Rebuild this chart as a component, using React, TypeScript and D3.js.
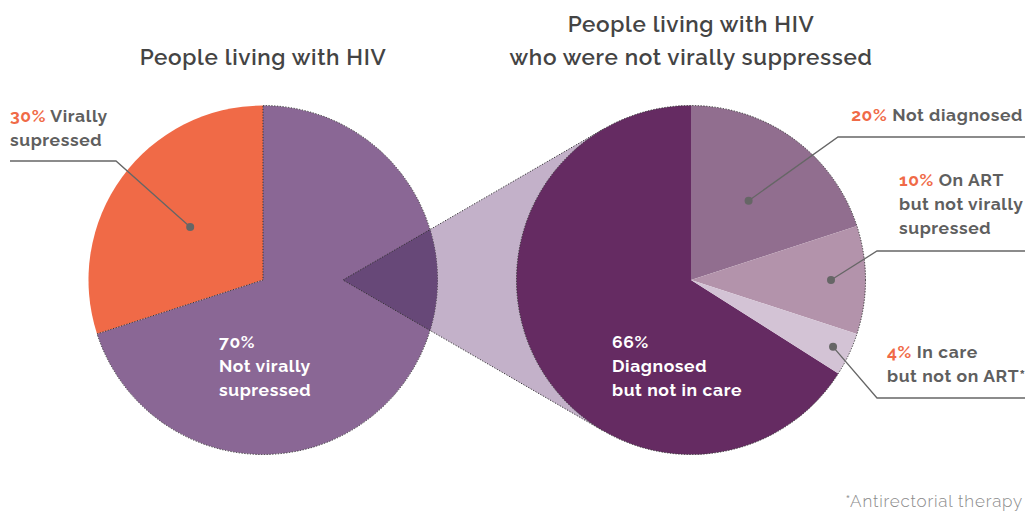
import React from "react";
import * as d3 from "d3";

const leftCategories = ["Virally supressed", "Not virally supressed"];
const leftValues = [30, 70];
const leftColors = ["#f06a47", "#8a6795"];

const rightCategories = ["Diagnosed but not in care", "Not diagnosed", "On ART but not virally supressed", "In care but not on ART*"];
const rightValues = [66, 20, 10, 4];
const rightColors = ["#652b62", "#916e8f", "#b393ab", "#d3c3d5"];

const titleLeft = ["People living with HIV"];
const titleRight = ["People living with HIV", "who were not virally suppressed"];
const footnote = "*Antirectorial therapy";

const W = 1025, H = 512;
const R = 174.5;
const LC = { x: 263, y: 280 };
const RC = { x: 691, y: 280 };
const APEX = { x: 343, y: 280 };
const FONT = "Raleway, 'Open Sans', Lato, sans-serif";
const ORANGE = "#f06a47";
const GREY = "#5f5f5f";
const DOT = "1.2,1.6";

export default function App() {
  const leftPie = d3.pie<number>().sort(null).startAngle(-(leftValues[0] / 100) * 2 * Math.PI).endAngle(2 * Math.PI - (leftValues[0] / 100) * 2 * Math.PI)(leftValues);
  const rightPie = d3.pie<number>().sort(null).startAngle(-(rightValues[0] / 100) * 2 * Math.PI).endAngle(2 * Math.PI - (rightValues[0] / 100) * 2 * Math.PI)(rightValues);
  const arc = d3.arc<d3.PieArcDatum<number>>().innerRadius(0).outerRadius(R);
  const at = (r: number) => d3.arc<d3.PieArcDatum<number>>().innerRadius(r).outerRadius(r);

  const dx = RC.x - APEX.x;
  const theta = Math.asin(R / dx);
  const tl = Math.sqrt(dx * dx - R * R);
  const T1 = { x: APEX.x + tl * Math.cos(theta), y: APEX.y - tl * Math.sin(theta) };
  const T2 = { x: APEX.x + tl * Math.cos(theta), y: APEX.y + tl * Math.sin(theta) };
  const fanPath = d3.line()([[APEX.x, APEX.y], [T1.x, T1.y], [RC.x, RC.y], [T2.x, T2.y]]) + "Z";
  const fanEdges = d3.line()([[T1.x, T1.y], [APEX.x, APEX.y], [T2.x, T2.y]]) as string;

  const dotL = at(90).centroid(leftPie[0]);
  const dot20 = at(98).centroid(rightPie[1]);
  const dot10 = at(140).centroid(rightPie[2]);
  const dot4 = at(157).centroid(rightPie[3]);

  const labelStyle = { fontFamily: FONT, fontWeight: 700, fontSize: 17.5, letterSpacing: 0.6, fill: GREY } as const;
  const whiteStyle = { fontFamily: FONT, fontWeight: 700, fontSize: 17.5, letterSpacing: 0.6, fill: "#ffffff" } as const;
  const titleStyle = { fontFamily: FONT, fontSize: 22.5, fontWeight: 600, letterSpacing: 0.65, fill: "#444444" } as const;

  return (
    <svg width={W} height={H} style={{ position: "absolute", left: 0, top: 0 }}>
      <defs>
        <clipPath id="leftCircle">
          <circle cx={LC.x} cy={LC.y} r={R} />
        </clipPath>
      </defs>
      {titleLeft.map((t, i) => (
        <text key={t} x={LC.x} y={65 + i * 33} textAnchor="middle" style={titleStyle}>{t}</text>
      ))}
      {titleRight.map((t, i) => (
        <text key={t} x={RC.x} y={32 + i * 33} textAnchor="middle" style={titleStyle}>{t}</text>
      ))}

      <path d={fanPath} fill="#c3b1c9" />
      <path d={fanEdges} fill="none" stroke="#333" strokeWidth={1} strokeDasharray={DOT} />

      <g transform={`translate(${LC.x},${LC.y})`}>
        {leftPie.map((d, i) => (
          <path key={leftCategories[i]} d={arc(d) as string} fill={leftColors[i]} />
        ))}
        <path d={arc(leftPie[1]) as string} fill="none" stroke="#333" strokeWidth={1} strokeDasharray={DOT} />
      </g>

      <g clipPath="url(#leftCircle)">
        <path d={fanPath} fill="#674878" />
        <path d={fanEdges} fill="none" stroke="#333" strokeWidth={1} strokeDasharray={DOT} />
      </g>

      <g transform={`translate(${RC.x},${RC.y})`}>
        {rightPie.map((d, i) => (
          <path key={rightCategories[i]} d={arc(d) as string} fill={rightColors[i]} />
        ))}
        <circle r={R} fill="none" stroke="#333" strokeWidth={1} strokeDasharray={DOT} />
      </g>

      <text x={10} y={122} style={labelStyle}><tspan fill={ORANGE}>{leftValues[0]}%</tspan> Virally</text>
      <text x={10} y={146} style={labelStyle}>supressed</text>
      <polyline points={`10,161 116,161 ${LC.x + dotL[0]},${LC.y + dotL[1]}`} fill="none" stroke="#666" strokeWidth={1.3} />
      <circle cx={LC.x + dotL[0]} cy={LC.y + dotL[1]} r={4} fill="#666" />

      <text x={219} y={348} style={whiteStyle}>{leftValues[1]}%</text>
      <text x={219} y={372} style={whiteStyle}>Not virally</text>
      <text x={219} y={396} style={whiteStyle}>supressed</text>

      <text x={612} y={348} style={whiteStyle}>{rightValues[0]}%</text>
      <text x={612} y={372} style={whiteStyle}>Diagnosed</text>
      <text x={612} y={396} style={whiteStyle}>but not in care</text>

      <text x={1023} y={121} textAnchor="end" style={labelStyle}><tspan fill={ORANGE}>{rightValues[1]}%</tspan> Not diagnosed</text>
      <polyline points={`1025,137 838,137 ${RC.x + dot20[0]},${RC.y + dot20[1]}`} fill="none" stroke="#666" strokeWidth={1.3} />
      <circle cx={RC.x + dot20[0]} cy={RC.y + dot20[1]} r={4} fill="#666" />

      <text x={899} y={186} style={labelStyle}><tspan fill={ORANGE}>{rightValues[2]}%</tspan> On ART</text>
      <text x={899} y={210} style={labelStyle}>but not virally</text>
      <text x={899} y={234} style={labelStyle}>supressed</text>
      <polyline points={`1025,251 877,251 ${RC.x + dot10[0]},${RC.y + dot10[1]}`} fill="none" stroke="#666" strokeWidth={1.3} />
      <circle cx={RC.x + dot10[0]} cy={RC.y + dot10[1]} r={4} fill="#666" />

      <text x={887} y={358} style={labelStyle}><tspan fill={ORANGE}>{rightValues[3]}%</tspan> In care</text>
      <text x={887} y={382} style={labelStyle}>but not on ART*</text>
      <polyline points={`1025,398 877,398 ${RC.x + dot4[0]},${RC.y + dot4[1]}`} fill="none" stroke="#666" strokeWidth={1.3} />
      <circle cx={RC.x + dot4[0]} cy={RC.y + dot4[1]} r={4} fill="#666" />

      <text x={1023} y={507} textAnchor="end" style={{ fontFamily: FONT, fontSize: 17, fontWeight: 300, letterSpacing: 0.8, fill: "#8a8a8a" }}>{footnote}</text>
    </svg>
  );
}
